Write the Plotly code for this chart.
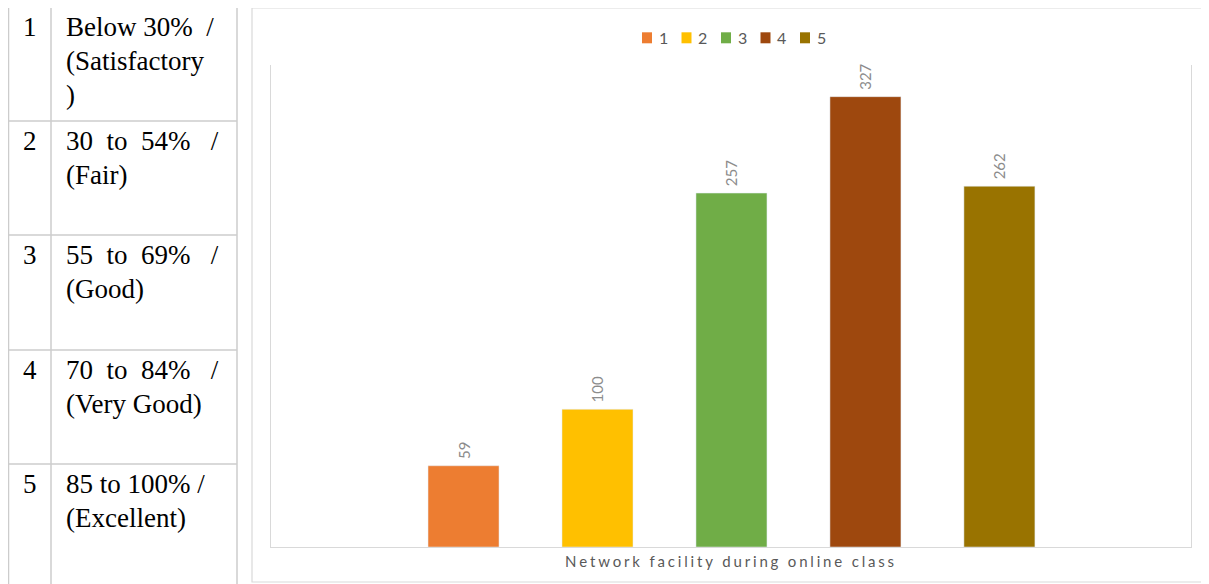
import plotly.graph_objects as go

# ---- data ----
categories = ["1", "2", "3", "4", "5"]
values = [59, 100, 257, 327, 262]
colors = ["#ED7D31", "#FFC000", "#70AD47", "#9E480E", "#997300"]
axis_title = "Network facility during online class"

table_numbers = ["1", "2", "3", "4", "5"]
NB = "\u00a0"
table_texts = [
    ["Below" + NB + "30%" + NB * 2 + "/", "(Satisfactory", ")"],
    ["30" + NB * 2 + "to" + NB * 2 + "54%" + NB * 3 + "/", "(Fair)"],
    ["55" + NB * 2 + "to" + NB * 2 + "69%" + NB * 3 + "/", "(Good)"],
    ["70" + NB * 2 + "to" + NB * 2 + "84%" + NB * 3 + "/", "(Very Good)"],
    ["85 to 100% /", "(Excellent)"],
]

W, H = 1209, 584
OFF = 8  # page offset of the plot div (body margin)


def px(x):
    return (x - OFF) / W


def py(y):
    return 1 - (y - OFF) / H


fig = go.Figure()
for c, v, col in zip(categories, values, colors):
    fig.add_trace(go.Bar(
        x=[c], y=[v], name=c, marker_color=col, width=0.53,
        text=[NB + str(v)], textposition="outside", textangle=-90,
        textfont=dict(family="Lato, sans-serif", size=15, color="#8c8c8c"),
        cliponaxis=False, constraintext="none", showlegend=False,
    ))

shapes = []
annotations = []
grid_col = "#cccccc"
# table lines
row_bounds = [7, 121, 235, 350, 464, 600]
for yb in row_bounds[:-1]:
    shapes.append(dict(type="line", xref="paper", yref="paper",
                       x0=px(8), x1=px(237), y0=py(yb), y1=py(yb),
                       line=dict(color=grid_col, width=1.5)))
for xb in [8.5, 51, 237]:
    shapes.append(dict(type="line", xref="paper", yref="paper",
                       x0=px(xb), x1=px(xb), y0=py(7), y1=py(600),
                       line=dict(color=grid_col, width=1.5)))
# chart frame
shapes.append(dict(type="rect", xref="paper", yref="paper",
                   x0=px(252), x1=px(1225), y0=py(8), y1=py(582),
                   line=dict(color="#d9d9d9", width=1.2)))

serif = dict(family="Liberation Serif, Times New Roman, serif", size=27, color="#000000")
for i, (num, lines) in enumerate(zip(table_numbers, table_texts)):
    top = row_bounds[i]
    annotations.append(dict(
        text=num, xref="paper", yref="paper", x=px(30), y=py(top + 3),
        xanchor="center", yanchor="top", showarrow=False, font=serif))
    for j, ln in enumerate(lines):
        annotations.append(dict(
            text=ln, xref="paper", yref="paper", x=px(64), y=py(top + 3 + j * 34),
            xanchor="left", yanchor="top", showarrow=False, font=serif))

# legend (manual, Excel-like compact layout)
leg_x0, leg_step, leg_y = 642, 39.5, 37.8
for i, (c, col) in enumerate(zip(categories, colors)):
    lx = leg_x0 + i * leg_step
    shapes.append(dict(type="rect", xref="paper", yref="paper",
                       x0=px(lx), x1=px(lx + 10), y0=py(leg_y - 5.5), y1=py(leg_y + 5.5),
                       fillcolor=col, line=dict(width=0)))
    annotations.append(dict(
        text=c, xref="paper", yref="paper", x=px(lx + 14.5), y=py(leg_y),
        xanchor="left", yanchor="middle", showarrow=False,
        font=dict(family="Lato, sans-serif", size=16, color="#595959")))

spaced_title = ("\u2009\u200a").join(list(axis_title))
annotations.append(dict(
    text=spaced_title, xref="paper", yref="paper", x=px(729), y=py(561),
    xanchor="center", yanchor="middle", showarrow=False,
    font=dict(family="Lato, sans-serif", size=15, color="#595959")))

fig.update_layout(
    width=W, height=H,
    margin=dict(l=0, r=0, t=0, b=0),
    paper_bgcolor="white", plot_bgcolor="white",
    barmode="overlay",
    showlegend=False,
    xaxis=dict(domain=[px(271), px(1191)], range=[-1.437, 5.43], type="category",
               showticklabels=False, showgrid=False, zeroline=False,
               showline=True, linecolor="#d9d9d9", linewidth=1.2, ticks=""),
    yaxis=dict(domain=[py(547), py(65)], range=[0, 350], showticklabels=False,
               showgrid=False, zeroline=False, showline=True, mirror=True,
               linecolor="#d9d9d9", linewidth=1.2, ticks=""),
    shapes=shapes, annotations=annotations,
)

fig.write_html("out.html")
